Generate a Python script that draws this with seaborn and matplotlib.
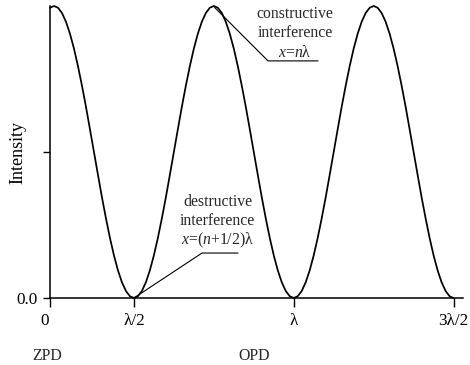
import numpy as np
import matplotlib
matplotlib.use("Agg")
import matplotlib.pyplot as plt
import matplotlib.transforms as mtransforms
import seaborn as sns

# ---------------- data ----------------
# Intensity samples along the OPD axis (arbitrary OPD units, step 0.025)
intensity = [
    0.994, 1.000,
    0.994, 0.976, 0.946, 0.905, 0.854, 0.794, 0.727, 0.655, 0.578, 0.500,
    0.422, 0.345, 0.273, 0.206, 0.146, 0.095, 0.054, 0.024, 0.006, 0.000,
    0.006, 0.024, 0.054, 0.095, 0.146, 0.206, 0.273, 0.345, 0.422, 0.500,
    0.578, 0.655, 0.727, 0.794, 0.854, 0.905, 0.946, 0.976, 0.994, 1.000,
    0.994, 0.976, 0.946, 0.905, 0.854, 0.794, 0.727, 0.655, 0.578, 0.500,
    0.422, 0.345, 0.273, 0.206, 0.146, 0.095, 0.054, 0.024, 0.006, 0.000,
    0.006, 0.024, 0.054, 0.095, 0.146, 0.206, 0.273, 0.345, 0.422, 0.500,
    0.578, 0.655, 0.727, 0.794, 0.854, 0.905, 0.946, 0.976, 0.994, 1.000,
    0.994, 0.976, 0.946, 0.905, 0.854, 0.794, 0.727, 0.655, 0.578, 0.500,
    0.422, 0.345, 0.273, 0.206, 0.146, 0.095, 0.054, 0.024, 0.006, 0.000,
]
opd_step = 0.025
opd = np.round(np.arange(len(intensity)) * opd_step, 3)

xtick_pos = [0.0, 0.525, 1.525, 2.525]
xtick_labels = ["0", "λ/2", "λ", "3λ/2"]
ytick_pos = [0.0, 0.5]
ytick_labels = ["0.0", ""]

constructive_lines = ["constructive", "interference", r"$x$=$n$λ"]
constructive_point = (1.030, 0.995)
constructive_corner = (1.364, 0.812)
constructive_end = (1.677, 0.812)
constructive_text_x = 1.533
constructive_text_y = [0.973, 0.908, 0.839]

destructive_lines = ["destructive", "interference", r"$x$=($n$+1/2)λ"]
destructive_point = (0.525, 0.0)
destructive_corner = (0.951, 0.154)
destructive_end = (1.176, 0.154)
destructive_text_x = 1.048
destructive_text_y = [0.329, 0.264, 0.199]

# ---------------- style ----------------
sns.set_theme(style="ticks")
plt.rcParams["font.family"] = ["Liberation Serif", "DejaVu Serif"]
plt.rcParams["mathtext.fontset"] = "custom"
plt.rcParams["mathtext.rm"] = "Liberation Serif"
plt.rcParams["mathtext.it"] = "Liberation Serif:italic"
FS = 11.3
TICK_FS = 12.3
YLAB_FS = 13.0

W, H = 470, 365
fig = plt.figure(figsize=(W / 100, H / 100), dpi=100)
fig.patch.set_facecolor("white")
ax = fig.add_axes([50 / W, 67 / H, 413 / W, 292 / H])
ax.set_facecolor("white")

sns.lineplot(x=opd, y=intensity, ax=ax, color="black", linewidth=1.25,
             sort=False, estimator=None)
for ln in ax.lines:
    ln.set_clip_on(False)

ax.set_xlim(0, 2.584)
ax.set_ylim(0, 1.0)

for s in ["top", "right"]:
    ax.spines[s].set_visible(False)
for s in ["left", "bottom"]:
    ax.spines[s].set_linewidth(1.1)
    ax.spines[s].set_color("black")

ax.set_xticks(xtick_pos)
ax.set_xticklabels(xtick_labels, fontsize=TICK_FS)
ax.set_yticks(ytick_pos)
ax.set_yticklabels(ytick_labels, fontsize=TICK_FS)
ax.tick_params(axis="x", direction="out", length=6.5, width=1.0, pad=4, colors="black")
ax.tick_params(axis="y", direction="out", length=5.0, width=1.0, pad=4, colors="black")

# shift the "0" label slightly left as in the reference
lab0 = ax.get_xticklabels()[0]
lab0.set_transform(lab0.get_transform() +
                   mtransforms.ScaledTranslation(-5 / 100, 0, fig.dpi_scale_trans))

ax.set_ylabel("Intensity", fontsize=YLAB_FS, color="black")
ax.yaxis.set_label_coords(-0.058, 0.5)
ax.set_xlabel("")

fig.text(254 / W, 1 - 356 / H, "OPD", fontsize=FS, ha="center", va="center")
fig.text(47 / W, 1 - 356 / H, "ZPD", fontsize=FS, ha="center", va="center")

# leader lines
for p, c, e in [(constructive_point, constructive_corner, constructive_end),
                (destructive_point, destructive_corner, destructive_end)]:
    ax.plot([p[0], c[0], e[0]], [p[1], c[1], e[1]], color="black",
            linewidth=0.8, clip_on=False)

for t, yy in zip(constructive_lines, constructive_text_y):
    ax.text(constructive_text_x, yy, t, fontsize=FS, ha="center", va="center")
for t, yy in zip(destructive_lines, destructive_text_y):
    ax.text(destructive_text_x, yy, t, fontsize=FS, ha="center", va="center")

fig.savefig("out.png", dpi=100, facecolor="white")
